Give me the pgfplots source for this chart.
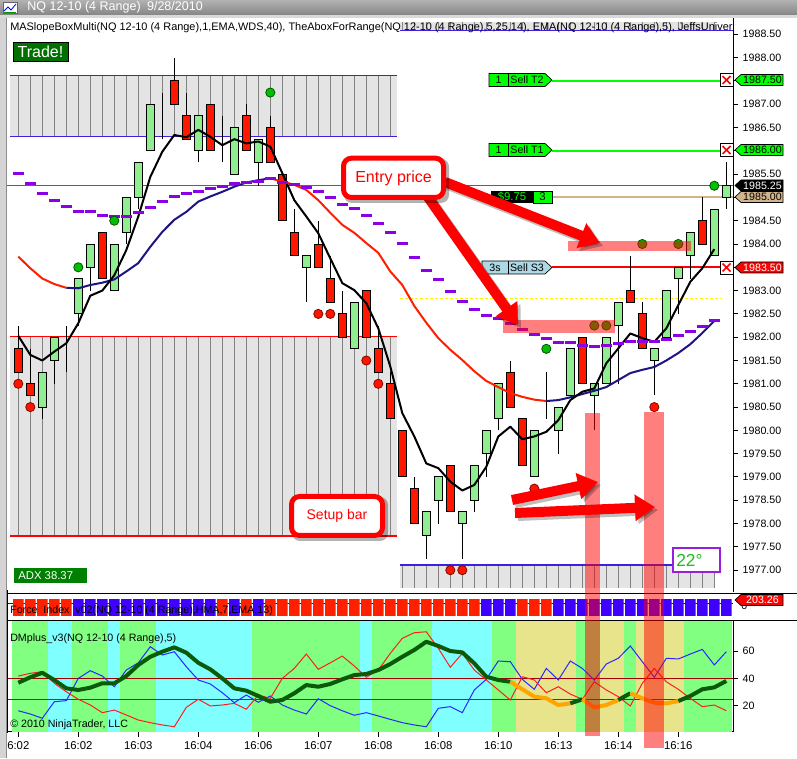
\documentclass[border=0pt]{standalone}
\usepackage{fontspec}
\setmainfont{Liberation Sans}
\usepackage{pgfplots}
\usepackage{pgfplotstable}
\pgfplotsset{compat=1.18}
\usetikzlibrary{arrows.meta}

\newlength\px
\setlength\px{0.75pt}
\newcommand\fsz[1]{\fontsize{#1}{#1}\selectfont}

\definecolor{cgreen}{RGB}{144,238,144}
\definecolor{cred}{RGB}{255,24,0}
\definecolor{boxgray}{RGB}{228,228,228}
\definecolor{gridgray}{RGB}{130,130,130}
\definecolor{boxblue}{RGB}{64,32,224}
\definecolor{teal2}{RGB}{40,120,120}
\definecolor{tan2}{RGB}{210,180,140}
\definecolor{sellgreen}{RGB}{0,255,0}
\definecolor{dashpurple}{RGB}{140,0,230}
\definecolor{navy2}{RGB}{30,20,130}
\definecolor{mared}{RGB}{255,30,0}
\definecolor{dotgreen}{RGB}{0,190,0}
\definecolor{dotred}{RGB}{255,20,0}
\definecolor{fired}{RGB}{255,32,0}
\definecolor{fiblue}{RGB}{64,0,255}
\definecolor{dmgreen}{RGB}{128,255,128}
\definecolor{dmcyan}{RGB}{128,255,255}
\definecolor{dmkhaki}{RGB}{232,228,140}
\definecolor{adxgreen}{RGB}{10,90,10}
\definecolor{adxorange}{RGB}{255,165,0}
\definecolor{diblue}{RGB}{40,40,255}
\definecolor{dired}{RGB}{255,30,30}
\definecolor{lvlred}{RGB}{160,0,0}
\definecolor{lvlpurple}{RGB}{140,0,200}
\definecolor{lblblue}{RGB}{173,216,230}
\definecolor{tradegreen}{RGB}{0,112,0}
\definecolor{adxbox}{RGB}{0,128,0}
\definecolor{degpurple}{RGB}{150,30,220}
\definecolor{deggreen}{RGB}{30,190,30}

% bars: index, open, high, low, close
\pgfplotstableread{
i o h l c
0 1981.75 1982.25 1981.25 1981.25
1 1981.00 1981.75 1980.75 1980.75
2 1980.50 1981.25 1980.25 1981.25
3 1981.50 1982.00 1981.00 1982.00
4 1982.25 1982.25 1981.25 1982.25
5 1982.50 1983.25 1982.25 1983.25
6 1983.50 1984.00 1983.00 1984.00
7 1984.25 1984.25 1983.25 1983.25
8 1983.00 1984.00 1983.00 1984.00
9 1984.25 1985.00 1984.00 1985.00
10 1985.00 1985.75 1984.75 1985.75
11 1986.00 1987.00 1986.00 1987.00
12 1987.25 1987.25 1986.25 1987.25
13 1987.50 1988.00 1987.00 1987.00
14 1986.75 1987.25 1986.25 1986.25
15 1986.00 1986.75 1985.75 1986.75
16 1987.00 1987.00 1986.00 1986.00
17 1985.75 1986.75 1985.75 1985.75
18 1985.50 1986.50 1985.50 1986.50
19 1986.75 1987.00 1986.00 1986.00
20 1985.75 1986.25 1985.25 1986.25
21 1986.50 1986.75 1985.75 1985.75
22 1985.50 1985.50 1984.50 1984.50
23 1984.25 1984.75 1983.75 1983.75
24 1983.50 1983.75 1982.75 1983.75
25 1984.00 1984.50 1983.50 1983.50
26 1983.25 1983.75 1982.75 1982.75
27 1982.50 1983.00 1982.00 1982.00
28 1981.75 1982.75 1981.75 1982.75
29 1983.00 1983.00 1982.00 1982.00
30 1981.75 1982.25 1981.25 1981.25
31 1981.00 1981.25 1980.25 1980.25
32 1980.00 1980.00 1979.00 1979.00
33 1978.75 1979.00 1978.00 1978.00
34 1977.75 1978.25 1977.25 1978.25
35 1978.50 1979.00 1978.00 1979.00
36 1979.25 1979.25 1978.25 1978.25
37 1978.00 1978.25 1977.25 1978.25
38 1978.50 1979.25 1978.25 1979.25
39 1979.50 1980.00 1979.00 1980.00
40 1980.25 1981.00 1980.00 1981.00
41 1981.25 1981.50 1980.50 1980.50
42 1980.25 1980.25 1979.25 1979.25
43 1979.00 1980.00 1979.00 1980.00
44 1980.25 1981.25 1980.25 1980.25
45 1980.00 1980.50 1979.50 1980.50
46 1980.75 1981.75 1980.75 1981.75
47 1982.00 1982.00 1981.00 1981.00
48 1980.75 1981.00 1980.00 1981.00
49 1981.00 1982.00 1981.00 1982.00
50 1982.25 1982.75 1981.00 1982.75
51 1983.00 1983.75 1982.75 1982.75
52 1982.50 1982.75 1981.75 1981.75
53 1981.50 1981.75 1980.75 1981.75
54 1982.00 1983.00 1982.00 1983.00
55 1983.25 1983.50 1982.50 1983.50
56 1983.75 1984.25 1983.25 1984.25
57 1984.50 1985.00 1984.00 1984.00
58 1983.75 1984.75 1983.75 1984.75
59 1985.00 1985.75 1984.75 1985.25
}\ohlc

% moving averages and slope dashes
\pgfplotstableread{
i fast slow dash
0 1982.03 1983.73 1985.52
1 1981.62 1983.48 1985.29
2 1981.50 1983.26 1985.09
3 1981.69 1983.14 1984.93
4 1981.87 1983.06 1984.80
5 1982.30 1983.05 1984.69
6 1982.89 1983.12 1984.69
7 1983.00 1983.17 1984.62
8 1983.33 1983.24 1984.60
9 1983.87 1983.41 1984.60
10 1984.59 1983.59 1984.67
11 1985.44 1983.94 1984.79
12 1985.98 1984.26 1984.91
13 1986.34 1984.52 1985.02
14 1986.29 1984.69 1985.08
15 1986.45 1984.91 1985.12
16 1986.30 1985.02 1985.19
17 1986.12 1985.12 1985.23
18 1986.25 1985.23 1985.29
19 1986.16 1985.32 1985.32
20 1986.20 1985.37 1985.35
21 1986.09 1985.41 1985.40
22 1985.52 1985.34 1985.31
23 1984.94 1985.27 1985.28
24 1984.59 1985.16 1985.21
25 1984.23 1984.94 1985.12
26 1983.69 1984.67 1984.99
27 1983.16 1984.41 1984.84
28 1983.01 1984.24 1984.77
29 1982.73 1984.02 1984.62
30 1982.19 1983.81 1984.45
31 1981.37 1983.41 1984.24
32 1980.37 1983.12 1984.02
33 1979.87 1982.67 1983.71
34 1979.29 1982.31 1983.44
35 1979.19 1981.98 1983.23
36 1978.90 1981.73 1982.99
37 1978.71 1981.51 1982.76
38 1978.83 1981.27 1982.60
39 1979.22 1981.06 1982.46
40 1979.87 1980.93 1982.41
41 1980.08 1980.80 1982.30
42 1979.81 1980.72 1982.17
43 1979.87 1980.66 1982.05
44 1979.97 1980.63 1981.98
45 1980.22 1980.65 1981.88
46 1980.65 1980.71 1981.88
47 1980.83 1980.78 1981.83
48 1980.90 1980.85 1981.80
49 1981.44 1980.93 1981.82
50 1981.76 1981.08 1981.87
51 1982.08 1981.23 1981.90
52 1981.98 1981.30 1981.90
53 1981.90 1981.36 1981.90
54 1982.19 1981.50 1981.94
55 1982.69 1981.66 1982.03
56 1983.19 1981.85 1982.13
57 1983.48 1982.09 1982.23
58 1983.89 1982.35 1982.35
}\ma

% DMplus panel
\pgfplotstableread{
i adx dip dim
0 37.0 16.5 41.9
1 41.0 14.1 43.9
2 44.3 11.0 45.1
3 39.0 23.1 36.6
4 32.9 23.9 30.4
5 31.7 40.2 24.9
6 33.4 45.8 20.7
7 36.6 41.9 15.1
8 36.6 34.1 17.0
9 41.9 46.3 13.4
10 50.0 51.6 9.7
11 56.0 63.4 7.8
12 59.7 57.3 6.1
13 62.9 59.7 4.8
14 59.0 48.7 19.0
15 51.6 39.0 24.9
16 46.8 36.1 20.0
17 40.2 29.7 20.7
18 32.9 22.4 21.9
19 31.2 28.0 17.6
20 27.3 22.7 28.0
21 23.1 27.3 25.6
22 24.4 20.7 40.2
23 29.3 17.0 47.5
24 35.3 14.1 58.0
25 34.1 25.3 46.8
26 36.1 20.2 51.6
27 39.5 16.5 56.5
28 42.6 13.2 49.2
29 43.4 15.1 41.0
30 46.3 12.7 46.3
31 50.7 10.2 58.5
32 56.0 7.8 69.5
33 61.0 6.1 73.6
34 67.0 4.8 74.3
35 63.9 18.3 62.2
36 60.2 19.5 48.3
37 59.2 15.1 58.5
38 51.2 31.7 46.3
39 41.4 39.5 39.0
40 39.0 52.9 31.7
41 37.7 52.4 24.4
42 32.2 39.5 41.4
43 26.8 32.2 39.0
44 25.6 47.5 29.7
45 20.7 39.0 34.1
46 21.9 52.9 28.7
47 24.9 47.5 24.9
48 19.0 39.0 37.7
49 20.7 50.7 31.7
50 24.4 54.9 26.8
51 29.3 63.9 20.0
52 25.6 52.4 36.6
53 22.4 41.0 47.5
54 21.9 54.9 37.7
55 23.6 54.4 32.2
56 27.3 58.0 25.6
57 32.2 61.4 19.5
58 33.6 50.0 20.7
59 38.3 59.7 16.5
}\dm

\pgfplotsset{
  pricepanel/.style={scale only axis, anchor=south west, at={(7\px,166\px)},
    width=726\px, height=574\px, xmin=-0.942, xmax=59.558,
    ymin=1976.532, ymax=1988.85},
  pxbox/.style={scale only axis, anchor=south west, ymin=0, ymax=1,
    axis line style={draw=none}, ytick=\empty, xticklabel=\empty,
    major tick length=0pt, xmajorgrids,
    grid style={gridgray, line width=1.2\px},
    axis background/.style={fill=boxgray}, clip=false},
}

\newcommand\pricetag[4]{%
  \filldraw[fill=#2, draw=black, line width=0.5pt] (735,758-#1) -- (741,758-#1+5.5)
    -- (783,758-#1+5.5) -- (783,758-#1-5.5) -- (741,758-#1-5.5) -- cycle;
  \node[text=#3, font=\fsz{8}, inner sep=0] at (762.5,758-#1) {#4};}

\newcommand\selllabel[5]{%
  \filldraw[fill=#3, draw=black, line width=0.5pt] (#2,758-#1+6.5) -- (545,758-#1+6.5)
    -- (552,758-#1) -- (545,758-#1-6.5) -- (#2,758-#1-6.5) -- cycle;
  \draw[line width=0.5pt] (508,758-#1+6.5) -- (508,758-#1-6.5);
  \node[font=\fsz{8}, inner sep=0] at ({(#2+508)/2},758-#1) {#4};
  \node[font=\fsz{8}, inner sep=0] at (527,758-#1) {#5};}

\newcommand\xbox[1]{%
  \filldraw[fill=white, draw=black, line width=0.5pt] (720,758-#1-6.5) rectangle (733,758-#1+6.5);
  \draw[red, line width=1.3pt] (722.5,758-#1-4) -- (730.5,758-#1+4)
    (722.5,758-#1+4) -- (730.5,758-#1-4);}

\begin{document}
\begin{tikzpicture}[x=0.75pt,y=0.75pt]
\path[use as bounding box] (0,0) rectangle (797,758);
\fill[white] (0,0) rectangle (797,758);

% window frame and title bar
\fill[black!17] (0,0) rectangle (6,742);
\draw[black!45, line width=0.75pt] (6.5,0) -- (6.5,742);
\shade[top color=black!30, bottom color=black!48] (0,743) rectangle (797,758);
\fill[black!15] (0,740) rectangle (797,743);
\filldraw[fill=white, draw=black!60, line width=0.4pt] (3,745) rectangle (17,756);
\draw[blue, line width=0.6pt] (4,747) -- (8,751) -- (11,748) -- (16,754);
\draw[green!60!black, line width=0.6pt] (4,746) -- (16,746);
\node[anchor=west, text=white, font=\fsz{9.4}, inner sep=0] at (27,750.5)
  {NQ 12-10 (4 Range)\enspace 9/28/2010};

% MASlope boxes
\begin{axis}[pxbox, at={(10\px,621.7\px)}, width=387\px, height=60.6\px,
  xmin=-0.692, xmax=31.558, xtick={0,...,31}]
\addplot[boxblue, line width=1.3\px] coordinates {(-0.692,0) (31.558,0)};
\addplot[boxblue, line width=1.3\px] coordinates {(-0.692,1) (31.558,1)};
\end{axis}
\begin{axis}[pxbox, at={(10\px,222\px)}, width=387\px, height=199.3\px,
  xmin=-0.692, xmax=31.558, xtick={0,...,31}]
\addplot[red, line width=1.3\px] coordinates {(-0.692,0) (31.558,0)};
\addplot[red, line width=1.3\px] coordinates {(-0.692,1) (31.558,1)};
\end{axis}
\begin{axis}[pxbox, at={(400\px,170\px)}, width=315\px, height=23\px,
  xmin=31.808, xmax=58.058, xtick={32,...,58}]
\addplot[boxblue, line width=1.3\px] coordinates {(31.808,1) (58.4,1)};
\end{axis}
\begin{axis}[pxbox, at={(400\px,727.5\px)}, width=315\px, height=8.8\px,
  xmin=31.808, xmax=58.058, xtick={32,...,58}]
\addplot[boxblue, line width=1.3\px] coordinates {(31.808,0) (59.558,0)};
\end{axis}

% price axis, levels and wicks
\begin{axis}[pricepanel,
  axis x line=none, axis y line*=right,
  ytick={1977,1977.5,...,1988.5},
  tick align=outside, major tick length=5\px,
  tick style={black, line width=1\px}, axis line style={black, line width=1\px},
  yticklabel style={font=\fsz{8}},
  /pgf/number format/fixed, /pgf/number format/fixed zerofill,
  /pgf/number format/precision=2, /pgf/number format/1000 sep={},
  /pgf/number format/assume math mode=true]
\addplot[teal2, line width=1\px] coordinates {(-0.942,1985.25) (59.558,1985.25)};
\addplot[yellow, line width=1.2\px, dash pattern=on 3\px off 2\px]
  coordinates {(31.8,1982.83) (58.5,1982.83)};
\addplot[tan2, line width=2\px] coordinates {(44.47,1985) (59.558,1985)};
\addplot[sellgreen, line width=2\px] coordinates {(44.47,1987.5) (58.47,1987.5)};
\addplot[sellgreen, line width=2\px] coordinates {(44.47,1986) (58.47,1986)};
\addplot[red, line width=2\px] coordinates {(44.47,1983.5) (58.47,1983.5)};
\addplot[draw=none, error bars/.cd, y dir=plus, y explicit, error mark=none,
  error bar style={draw=black, solid, line width=1\px}]
  table[x=i, y=l, y error expr=\thisrow{h}-\thisrow{l}] \ohlc;
\end{axis}

% candle bodies
\begin{axis}[pricepanel, hide axis, ybar stacked, bar width=8\px]
\addplot[draw=none, fill=none] table[x=i, y expr={min(\thisrow{o},\thisrow{c})}] \ohlc;
\addplot[draw=black, fill=cgreen, line width=1\px]
  table[x=i, y expr={max(\thisrow{c}-\thisrow{o},0)}] \ohlc;
\addplot[draw=black, fill=cred, line width=1\px]
  table[x=i, y expr={max(\thisrow{o}-\thisrow{c},0)}] \ohlc;
\end{axis}

% averages, slope dashes, dots
\begin{axis}[pricepanel, hide axis]
\addplot[mared, line width=2\px, restrict x to domain=0:4] table[x=i, y=slow] \ma;
\addplot[navy2, line width=2\px, restrict x to domain=4:21] table[x=i, y=slow] \ma;
\addplot[mared, line width=2\px, restrict x to domain=21:44] table[x=i, y=slow] \ma;
\addplot[navy2, line width=2\px, restrict x to domain=44:58] table[x=i, y=slow] \ma;
\addplot[black, line width=2\px, line join=round] table[x=i, y=fast] \ma;
\addplot[only marks, mark=-, mark size=5.5\px,
  mark options={draw=dashpurple, line width=3\px}] table[x=i, y=dash] \ma;
\addplot[only marks, mark=*, mark size=4.6\px,
  mark options={fill=dotgreen, draw=dotgreen!45!black, line width=0.8\px}]
  coordinates {(5,1983.5) (8,1984.5) (21,1987.25) (44,1981.75) (58,1985.25)
               (48,1982.25) (49,1982.25) (52,1984) (55,1984)};
\addplot[only marks, mark=*, mark size=4.6\px,
  mark options={fill=dotred, draw=dotred!50!black, line width=0.8\px}]
  coordinates {(0,1981) (1,1980.5) (25,1982.5) (26,1982.5) (29,1981.5) (30,1981)
               (36,1977) (37,1977) (43,1978.75) (53,1980.5)};
\end{axis}

% force index strip
\begin{axis}[scale only axis, anchor=south west, at={(7\px,140\px)}, width=726\px, height=21\px,
  xmin=-0.942, xmax=59.558, ymin=-0.118, ymax=1.118, hide axis, ybar, bar width=10.6\px]
\addplot[sharp plot, navy2, line width=1\px] coordinates {(-0.942,0.76) (59.558,0.76)};
\addplot[draw=none, fill=fired, bar shift=0pt] coordinates {
  (0,1) (1,1) (2,1) (3,1) (4,1) (17,1) (19,1)
  (21,1) (22,1) (23,1) (24,1) (25,1) (26,1) (27,1) (28,1) (29,1) (30,1)
  (31,1) (32,1) (33,1) (34,1) (35,1) (36,1) (37,1) (38,1) (42,1) (43,1) (44,1)};
\addplot[draw=none, fill=fiblue, bar shift=0pt] coordinates {
  (5,1) (6,1) (7,1) (8,1) (9,1) (10,1) (11,1) (12,1) (13,1) (14,1) (15,1) (16,1)
  (18,1) (20,1) (39,1) (40,1) (41,1) (45,1) (46,1) (47,1) (48,1) (49,1) (50,1)
  (51,1) (52,1) (53,1) (54,1) (55,1) (56,1) (57,1) (58,1) (59,1)};
\end{axis}
\node[anchor=west, font=\fsz{8}, inner sep=0] at (10,147)
  {Force\ \ Index\ \ v02(NQ 12-10 (4 Range),HMA,7,EMA,13)};
\node[anchor=west, font=\fsz{8}, inner sep=0] at (741,152) {0};

% DMplus panel
\begin{axis}[scale only axis, anchor=south west, at={(7\px,26.3\px)}, width=726\px, height=111\px,
  xmin=-0.942, xmax=59.558, ymin=1.17, ymax=82.4,
  axis x line*=bottom, axis y line*=right,
  xtick={0,5,...,55},
  xticklabels={6:02,16:02,16:03,16:04,16:06,16:07,16:08,16:08,16:10,16:13,16:14,16:16},
  ytick={20,40,60},
  tick align=outside, major tick length=5\px,
  tick style={black, line width=1\px}, axis line style={black, line width=1\px},
  xticklabel style={font=\fsz{8.5}}, yticklabel style={font=\fsz{8}},
  /pgf/number format/assume math mode=true]
\addplot[fill=dmgreen, draw=none] coordinates {(-0.5,0) (2.5,0) (2.5,90) (-0.5,90)};
\addplot[fill=dmcyan, draw=none] coordinates {(2.5,0) (4.5,0) (4.5,90) (2.5,90)};
\addplot[fill=dmgreen, draw=none] coordinates {(4.5,0) (7.5,0) (7.5,90) (4.5,90)};
\addplot[fill=dmcyan, draw=none] coordinates {(7.5,0) (8.5,0) (8.5,90) (7.5,90)};
\addplot[fill=dmgreen, draw=none] coordinates {(8.5,0) (11.5,0) (11.5,90) (8.5,90)};
\addplot[fill=dmcyan, draw=none] coordinates {(11.5,0) (19.5,0) (19.5,90) (11.5,90)};
\addplot[fill=dmgreen, draw=none] coordinates {(19.5,0) (28.5,0) (28.5,90) (19.5,90)};
\addplot[fill=dmcyan, draw=none] coordinates {(28.5,0) (29.5,0) (29.5,90) (28.5,90)};
\addplot[fill=dmgreen, draw=none] coordinates {(29.5,0) (34.5,0) (34.5,90) (29.5,90)};
\addplot[fill=dmcyan, draw=none] coordinates {(34.5,0) (39.5,0) (39.5,90) (34.5,90)};
\addplot[fill=dmgreen, draw=none] coordinates {(39.5,0) (41.5,0) (41.5,90) (39.5,90)};
\addplot[fill=dmkhaki, draw=none] coordinates {(41.5,0) (46.5,0) (46.5,90) (41.5,90)};
\addplot[fill=dmgreen, draw=none] coordinates {(46.5,0) (48.5,0) (48.5,90) (46.5,90)};
\addplot[fill=dmkhaki, draw=none] coordinates {(48.5,0) (50.5,0) (50.5,90) (48.5,90)};
\addplot[fill=dmgreen, draw=none] coordinates {(50.5,0) (51.5,0) (51.5,90) (50.5,90)};
\addplot[fill=dmkhaki, draw=none] coordinates {(51.5,0) (55.5,0) (55.5,90) (51.5,90)};
\addplot[fill=dmgreen, draw=none] coordinates {(55.5,0) (59.5,0) (59.5,90) (55.5,90)};
\addplot[lvlred, line width=1\px] coordinates {(-0.942,40) (59.558,40)};
\addplot[lvlpurple, line width=1\px] coordinates {(-0.942,25) (59.558,25)};
\addplot[diblue, line width=1\px] table[x=i, y=dip] \dm;
\addplot[dired, line width=1\px] table[x=i, y=dim] \dm;
\addplot[adxgreen, line width=4\px, line join=round, restrict x to domain=0:41] table[x=i, y=adx] \dm;
\addplot[adxorange, line width=4\px, line join=round, restrict x to domain=41:46] table[x=i, y=adx] \dm;
\addplot[adxgreen, line width=4\px, restrict x to domain=46:47] table[x=i, y=adx] \dm;
\addplot[adxorange, line width=4\px, line join=round, restrict x to domain=47:50] table[x=i, y=adx] \dm;
\addplot[adxgreen, line width=4\px, restrict x to domain=50:51] table[x=i, y=adx] \dm;
\addplot[adxorange, line width=4\px, line join=round, restrict x to domain=51:55] table[x=i, y=adx] \dm;
\addplot[adxgreen, line width=4\px, line join=round, restrict x to domain=55:59] table[x=i, y=adx] \dm;
\end{axis}
\node[anchor=west, font=\fsz{8}, inner sep=0] at (10,119) {DMplus\_v3(NQ 12-10 (4 Range),5)};
\node[anchor=west, font=\fsz{8}, inner sep=0] at (10,33) {\textcopyright\ 2010 NinjaTrader, LLC};

% panel separators
\draw[black, line width=1\px] (7,164.7) -- (797,164.7);
\draw[black, line width=1\px] (7,138) -- (797,138);
\draw[black, line width=1\px] (7,25.5) -- (7,168);

% header text
\begin{scope}
\clip (7,700) rectangle (733,742);
\node[anchor=west, font=\fsz{8.2}, inner sep=0] at (10,730)
  {MASlopeBoxMulti(NQ 12-10 (4 Range),1,EMA,WDS,40), TheAboxForRange(NQ 12-10 (4 Range),5,25,14), EMA(NQ 12-10 (4 Range),5), JeffsUnivers};
\end{scope}

% boxes on the chart
\filldraw[fill=tradegreen, draw=black, line width=0.5pt] (13,697) rectangle (68,716);
\node[text=white, font=\fsz{12}, inner sep=0] at (40.5,706.5) {Trade!};
\fill[adxbox] (14,175) rectangle (87,190);
\node[anchor=west, text=white, font=\fsz{8.5}, inner sep=0] at (18,182.5) {ADX 38.37};
\filldraw[fill=white, draw=degpurple, line width=1.5pt] (673,186) rectangle (720,210);
\node[anchor=west, text=deggreen, font=\fsz{13}, inner sep=0] at (676,198) {22°};

% order labels
\selllabel{80}{489}{sellgreen}{1}{Sell T2}
\selllabel{150}{489}{sellgreen}{1}{Sell T1}
\selllabel{267.5}{482}{lblblue}{3s}{Sell S3}
\fill[black] (491,555) rectangle (533,567);
\node[text=sellgreen, font=\fsz{8.5}, inner sep=0] at (512,561) {\$9.75};
\filldraw[fill=sellgreen, draw=black, line width=0.5pt] (533,555) rectangle (552,567);
\node[font=\fsz{8.5}, inner sep=0] at (542.5,561) {3};
\xbox{80}
\xbox{150}
\xbox{267.5}

% price tags
\pricetag{80}{sellgreen}{black}{1987.50}
\pricetag{150}{sellgreen}{black}{1986.00}
\pricetag{197}{tan2}{black}{1985.00}
\pricetag{185.5}{black}{white}{1985.25}
\pricetag{267.5}{red}{white}{1983.50}
\pricetag{600}{red}{white}{203.26}

% highlights
\fill[red, opacity=0.5] (503,425) rectangle (615,438);
\fill[red, opacity=0.5] (568,507.3) rectangle (691,517.3);
\fill[red, opacity=0.5] (585,22.3) rectangle (600,345);
\fill[red, opacity=0.5] (644,9.7) rectangle (664,346);

% arrows
\begin{scope}[line width=7.5pt, -{Triangle[width=19pt,length=15pt]}]
\draw[black, opacity=0.25, shift={(3,-3)}] (445,576) -- (600,515);
\draw[black, opacity=0.25, shift={(3,-3)}] (425,565) -- (518,433);
\draw[black, opacity=0.25, shift={(3,-3)}] (512,258) -- (598,276);
\draw[black, opacity=0.25, shift={(3,-3)}] (515,245) -- (655,251);
\draw[red] (445,576) -- (600,515);
\draw[red] (425,565) -- (518,433);
\draw[red] (512,258) -- (598,276);
\draw[red] (515,245) -- (655,251);
\end{scope}

% callouts
\fill[black, opacity=0.3, rounded corners=8\px] (344,555) rectangle (449,599.3);
\filldraw[fill=white, draw=red, line width=3.75pt, rounded corners=8\px] (343.5,560.5) rectangle (443.5,599.8);
\node[text=red, font=\fsz{12}, inner sep=0] at (393.5,580) {Entry price};
\fill[black, opacity=0.3, rounded corners=8\px] (292,217) rectangle (388,261);
\filldraw[fill=white, draw=red, line width=3.75pt, rounded corners=8\px] (291.5,222.5) rectangle (382.5,261.5);
\node[text=red, font=\fsz{10.5}, inner sep=0] at (337,242) {Setup bar};
\end{tikzpicture}
\end{document}
